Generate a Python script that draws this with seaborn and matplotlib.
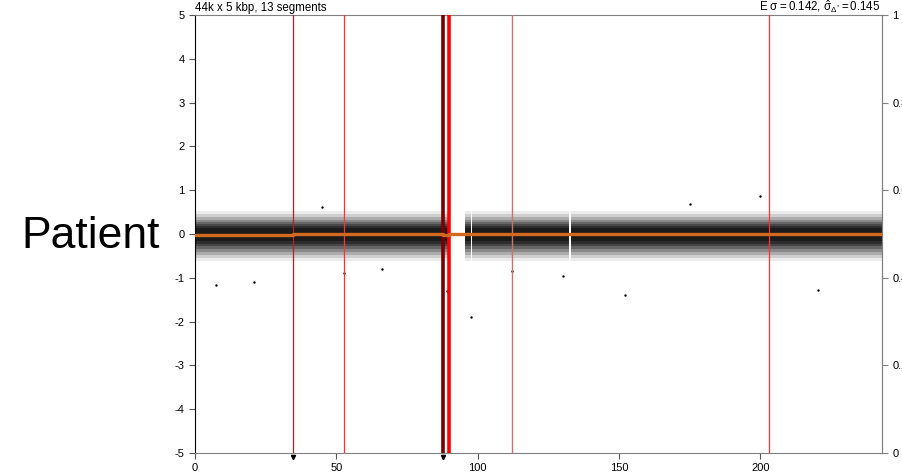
"""Copy-number style segment plot: log-ratio cloud with segment means and breakpoints."""

import numpy as np
import pandas as pd
import matplotlib
matplotlib.use("Agg")
import matplotlib.pyplot as plt
import seaborn as sns

# --- data ---
# stretches of the genome (x, in units of the axis) that carry probes
cover_start = [0.0, 88.0, 95.5, 98.0, 133.0]
cover_end = [87.5, 89.8, 97.5, 132.4, 243.0]

# envelope of the point cloud, as nested bands (outer -> inner), around 0
band_lo = [-0.62, -0.54, -0.47, -0.40, -0.34, -0.28, -0.22, -0.16]
band_hi = [0.52, 0.45, 0.39, 0.33, 0.28, 0.23, 0.18, 0.13]
band_alpha = [0.08, 0.12, 0.16, 0.20, 0.25, 0.30, 0.35, 0.40]

# segment means (orange)
seg_start = [0.0, 34.7, 52.7, 87.7, 90.0, 112.2, 203.2]
seg_end = [34.7, 52.7, 87.7, 90.0, 112.2, 203.2, 243.0]
seg_mean = [-0.03, -0.01, -0.01, -0.02, -0.01, -0.01, -0.01]

# breakpoints
bp_pos = [34.7, 52.7, 87.7, 90.0, 112.2, 203.2]
bp_color = ["#b22222", "#ff3030", "#7a0000", "#ff0000", "#cd7070", "#ff3030"]
bp_width = [0.9, 0.9, 2.6, 2.6, 1.0, 0.9]
arrow_pos = [34.7, 87.7]

# isolated outliers
out_x = [7.4, 21.0, 52.7, 89.0, 97.7, 152.0, 200.0, 220.5, 112.2, 45.0, 130.0, 175.0, 66.0]
out_y = [-1.16, -1.10, -0.90, -1.30, -1.90, -1.39, 0.87, -1.28, -0.85, 0.62, -0.95, 0.68, -0.80]

sns.set_style("ticks", {"text.color": "black", "xtick.color": "black",
                        "ytick.color": "black"})
plt.rcParams["font.family"] = ["Liberation Sans", "DejaVu Sans"]
plt.rcParams["axes.unicode_minus"] = False
plt.rcParams["mathtext.default"] = "regular"

fig = plt.figure(figsize=(9.02, 4.76), dpi=100)
ax = fig.add_axes([0.2162, 0.0483, 0.7616, 0.9202])

# point cloud drawn as stacked translucent envelopes
for s, e in zip(cover_start, cover_end):
    for lo, hi, a in zip(band_lo, band_hi, band_alpha):
        ax.fill_between([s, e], [lo, lo], [hi, hi], color="black",
                        alpha=a, linewidth=0)

out = pd.DataFrame({"x": out_x, "y": out_y})
sns.scatterplot(data=out, x="x", y="y", ax=ax, color="black", s=3,
                linewidth=0, legend=False)

# breakpoints
for x, c, w in zip(bp_pos, bp_color, bp_width):
    ax.axvline(x, color=c, lw=w, zorder=3)

# segment means
for s, e, m in zip(seg_start, seg_end, seg_mean):
    seg = pd.DataFrame({"x": [s, e], "y": [m, m]})
    sns.lineplot(data=seg, x="x", y="y", ax=ax, color="#d2691e", lw=2.4,
                 zorder=4, legend=False)

ax.plot(arrow_pos, [-5.1] * len(arrow_pos), "v", color="black", ms=3,
        clip_on=False, zorder=5)

ax.set_xlim(0, 243)
ax.set_ylim(-5, 5)
ax.set_xticks([0, 50, 100, 150, 200])
ax.set_yticks(range(-5, 6))
ax.set_xlabel("")
ax.set_ylabel("")
ax.tick_params(labelsize=8, length=4, width=0.8, color="#555555")
ax.spines["left"].set_color("black")
for side in ["top", "bottom", "right"]:
    ax.spines[side].set_color("#808080")

# right-hand axis 0..1 (labels run off the figure edge, as in the source)
ax2 = ax.twinx()
ax2.set_ylim(0, 1)
ax2.set_yticks([0, 0.2, 0.4, 0.6, 0.8, 1])
ax2.set_yticklabels(["0", "0.2", "0.4", "0.6", "0.8", "1"])
ax2.tick_params(labelsize=8, length=4, width=0.8, color="#808080")
ax2.spines["right"].set_color("#808080")
for side in ["top", "bottom", "left"]:
    ax2.spines[side].set_visible(False)

ax.text(0.0, 1.002, "44k x 5 kbp, 13 segments", transform=ax.transAxes,
        fontsize=8.3, ha="left", va="bottom")
ax.text(0.997, 1.001, r"E $\sigma = 0.142$, $\hat{\sigma}_{\Delta^{*}} = 0.145$",
        transform=ax.transAxes, fontsize=8.3, ha="right", va="bottom")

fig.text(0.1, 0.504, "Patient", fontsize=32, ha="center", va="center",
         color="black")

fig.savefig("out.png", dpi=100)
